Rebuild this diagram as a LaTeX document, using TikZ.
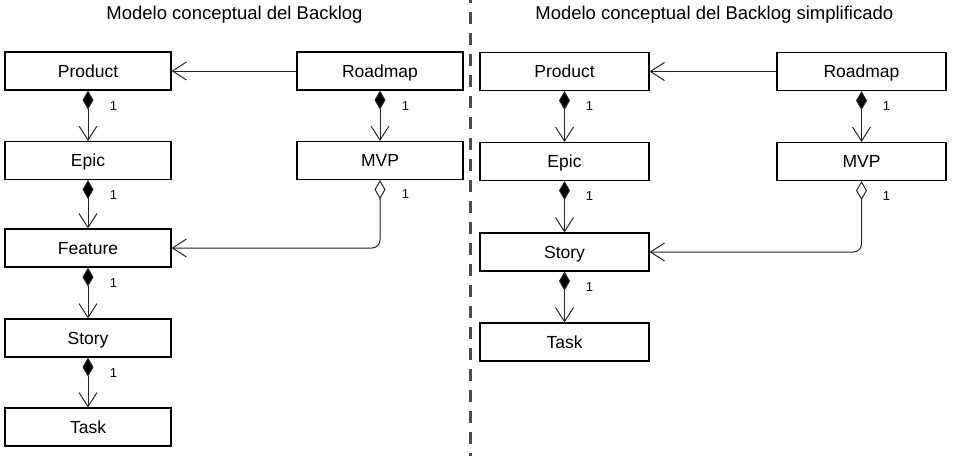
\documentclass[tikz,border=0pt]{standalone}
\usepackage{fontspec}
\setmainfont{Liberation Sans}
\usetikzlibrary{arrows.meta}
\begin{document}
\begin{tikzpicture}[x=1pt,y=-1pt,
  cls/.style={draw=black,line width=1.1pt,fill=white,minimum height=38pt,inner sep=0pt,
    font=\fontsize{17.5}{20}\selectfont,text height=12.8pt,text depth=0pt},
  lcls/.style={cls,minimum width=166pt},
  rcls/.style={cls,minimum width=169pt},
  barb/.style={},
  comp/.style={line width=1pt,draw=black!85,
    {Diamond[length=19pt,width=11pt,fill=black]}-{Straight Barb[length=14pt,width=18pt,line width=1pt]}},
  aggr/.style={line width=1pt,draw=black!85,rounded corners=8pt,
    {Diamond[open,length=19pt,width=11pt,fill=white]}-{Straight Barb[length=14pt,width=18pt,line width=1pt]}},
  assoc/.style={line width=1pt,draw=black!85,-{Straight Barb[length=14pt,width=18pt,line width=1pt]}},
  mult/.style={font=\fontsize{13}{15}\selectfont,inner sep=0pt},
  ttl/.style={font=\fontsize{18.5}{21}\selectfont,anchor=base,inner sep=0pt}
]
\useasboundingbox (0,0) rectangle (953,456);
% titles
\node[ttl] (t1) at (234.5,19.5) {Modelo conceptual del Backlog};
\node[ttl] (t2) at (714.3,19.5) {Modelo conceptual del Backlog simplificado};
% separator
\coordinate (s1) at (470.3,0);
\coordinate (s2) at (470.3,456);
\draw[line width=2.8pt,draw=black!70,dash pattern=on 12pt off 9pt,dash phase=8.7pt] (s1) -- (s2);
% left model
\node[lcls] (lp) at (88,71) {Product};
\node[lcls] (le) at (88,160.5) {Epic};
\node[lcls] (lf) at (88,248) {Feature};
\node[lcls] (ls) at (88,338) {Story};
\node[lcls] (lt) at (88,427) {Task};
\node[lcls] (lr) at (380,71) {Roadmap};
\node[lcls] (lm) at (380,160.5) {MVP};
\draw[comp] (lp) -- (le);
\draw[comp] (le) -- (lf);
\draw[comp] (lf) -- (ls);
\draw[comp] (ls) -- (lt);
\draw[comp] (lr) -- (lm);
\draw[assoc] (lr) -- (lp);
\draw[aggr] (lm.south) |- (lf.east);
\node[mult] (m1) at (113.5,106.5) {1};
\node[mult] (m2) at (113.5,195.5) {1};
\node[mult] (m3) at (113.5,283.5) {1};
\node[mult] (m4) at (113.5,373.5) {1};
\node[mult] (m5) at (405.5,106.5) {1};
\node[mult] (m6) at (405.5,194.5) {1};
% right model
\node[rcls] (rp) at (564.5,71.5) {Product};
\node[rcls] (re) at (564.5,161.5) {Epic};
\node[rcls] (rs) at (564.5,252) {Story};
\node[rcls] (rt) at (564.5,342) {Task};
\node[rcls] (rr) at (861.5,71.5) {Roadmap};
\node[rcls] (rm) at (861.5,161.5) {MVP};
\draw[comp] (rp) -- (re);
\draw[comp] (re) -- (rs);
\draw[comp] (rs) -- (rt);
\draw[comp] (rr) -- (rm);
\draw[assoc] (rr) -- (rp);
\draw[aggr] (rm.south) |- (rs.east);
\node[mult] (n1) at (589.5,106.5) {1};
\node[mult] (n2) at (589.5,196.5) {1};
\node[mult] (n3) at (589.5,287) {1};
\node[mult] (n4) at (886.5,106.5) {1};
\node[mult] (n5) at (886.5,196.5) {1};
\end{tikzpicture}
\end{document}
